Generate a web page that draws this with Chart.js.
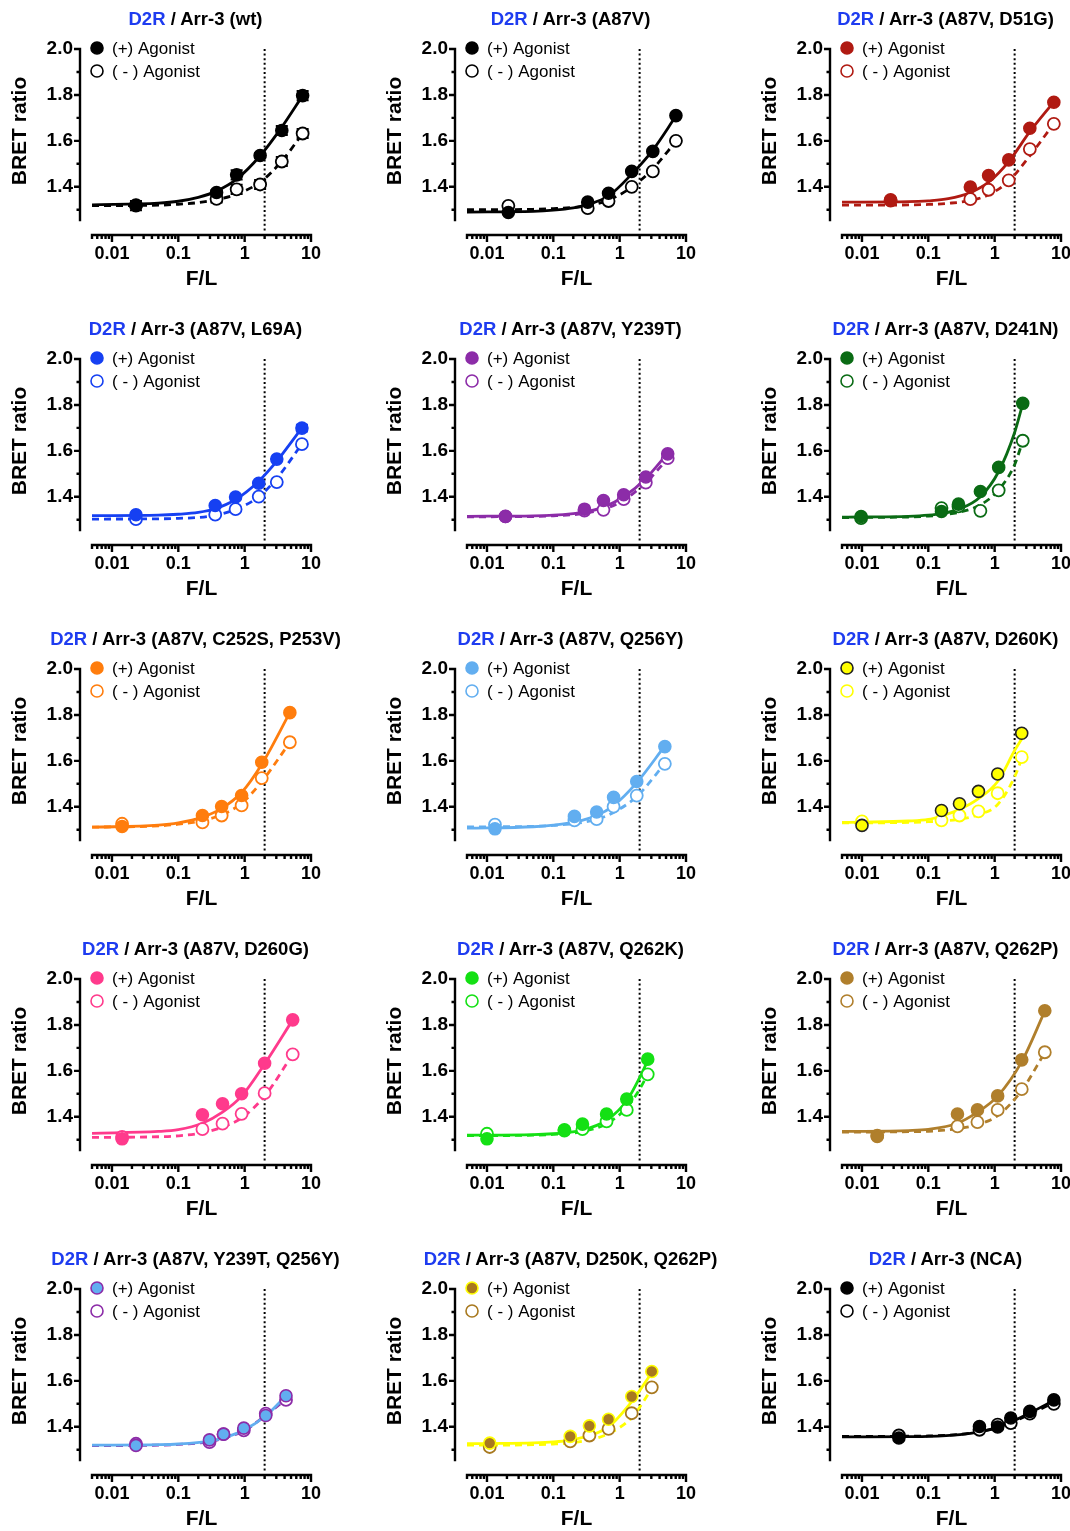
<!DOCTYPE html>
<html>
<head>
<meta charset="utf-8">
<script src="https://cdn.jsdelivr.net/npm/chart.js@4/dist/chart.umd.min.js"></script>
<style>
  html, body { margin: 0; padding: 0; background: #fff; }
  #page { position: relative; width: 1070px; height: 1531px; overflow: hidden; background: #fff; }
  canvas.panel { position: absolute; }
  .ptitle { position: absolute; transform: translateX(-50%); white-space: nowrap;
            font-family: 'Liberation Sans', Arial, sans-serif; font-weight: bold; font-size: 18.5px;
            line-height: 22px; color: #000; }
  .ptitle .d2r { color: #1e3cf0; }
</style>
</head>
<body>
<div id="page"></div>
<script>
// ---------------- data ----------------
const PANEL_TITLES = ['wt', 'A87V', 'A87V, D51G', 'A87V, L69A', 'A87V, Y239T', 'A87V, D241N',
  'A87V, C252S, P253V', 'A87V, Q256Y', 'A87V, D260K', 'A87V, D260G', 'A87V, Q262K', 'A87V, Q262P',
  'A87V, Y239T, Q256Y', 'A87V, D250K, Q262P', 'NCA'];
const SERIES_LABELS = ['(+) Agonist', '( - ) Agonist'];
const X_TICKS = [0.01, 0.1, 1, 10];
const Y_TICKS = [1.4, 1.6, 1.8, 2.0];
const THRESHOLD_X = 2;           // dotted vertical reference line at F/L = 2
const THRESHOLD_Y = [1.21, 2.0];

const P1_X = [0.023, 0.377, 0.757, 1.71, 3.63, 7.48];
const P1_PLUS = [1.318, 1.375, 1.452, 1.536, 1.645, 1.797];
const P1_PLUS_ERR = [0.02, 0.01, 0.02, 0.01, 0.02, 0.02];
const P1_MINUS = [1.320, 1.347, 1.389, 1.410, 1.510, 1.632];
const P1_MINUS_ERR = [0.01, 0.015, 0.02, 0.02, 0.02, 0.02];
const P1_FIT_X = [0.005, 0.05, 0.1, 0.2, 0.377, 0.757, 1.71, 3.63, 7.48];
const P1_FIT_PLUS = [1.321, 1.329, 1.337, 1.354, 1.381, 1.433, 1.535, 1.660, 1.797];
const P1_FIT_MINUS = [1.318, 1.320, 1.324, 1.331, 1.344, 1.368, 1.420, 1.512, 1.632];

const P2_X = [0.021, 0.33, 0.68, 1.52, 3.16, 7.05];
const P2_PLUS = [1.288, 1.333, 1.372, 1.467, 1.554, 1.710];
const P2_MINUS = [1.317, 1.307, 1.338, 1.400, 1.467, 1.600];
const P2_FIT_X = [0.005, 0.05, 0.1, 0.2, 0.33, 0.68, 1.52, 3.16, 7.05];
const P2_FIT_PLUS = [1.290, 1.293, 1.298, 1.308, 1.322, 1.360, 1.455, 1.560, 1.708];
const P2_FIT_MINUS = [1.300, 1.302, 1.305, 1.310, 1.318, 1.342, 1.398, 1.478, 1.598];

const P3_X = [0.027, 0.43, 0.81, 1.63, 3.39, 7.8];
const P3_PLUS = [1.343, 1.399, 1.449, 1.517, 1.655, 1.768];
const P3_MINUS = [1.340, 1.346, 1.387, 1.428, 1.564, 1.674];
const P3_FIT_X = [0.005, 0.05, 0.1, 0.2, 0.43, 0.81, 1.63, 3.39, 7.8];
const P3_FIT_PLUS = [1.333, 1.335, 1.339, 1.348, 1.375, 1.420, 1.510, 1.640, 1.770];
const P3_FIT_MINUS = [1.320, 1.321, 1.323, 1.328, 1.340, 1.365, 1.425, 1.535, 1.675];

const P4_X = [0.023, 0.36, 0.73, 1.63, 3.05, 7.3];
const P4_PLUS = [1.322, 1.362, 1.399, 1.459, 1.564, 1.699];
const P4_PLUS_ERR = [0, 0, 0, 0, 0, 0.015];
const P4_MINUS = [1.303, 1.322, 1.346, 1.401, 1.464, 1.629];
const P4_FIT_X = [0.005, 0.05, 0.1, 0.2, 0.36, 0.73, 1.63, 3.05, 7.3];
const P4_FIT_PLUS = [1.318, 1.320, 1.324, 1.332, 1.348, 1.388, 1.468, 1.555, 1.700];
const P4_FIT_MINUS = [1.303, 1.304, 1.306, 1.310, 1.320, 1.345, 1.400, 1.480, 1.630];

const P5_X = [0.019, 0.295, 0.57, 1.15, 2.48, 5.3];
const P5_PLUS = [1.314, 1.346, 1.384, 1.409, 1.486, 1.587];
const P5_MINUS = [1.315, 1.340, 1.343, 1.390, 1.462, 1.568];
const P5_FIT_X = [0.005, 0.05, 0.1, 0.2, 0.295, 0.57, 1.15, 2.48, 5.3];
const P5_FIT_PLUS = [1.315, 1.317, 1.320, 1.327, 1.333, 1.355, 1.400, 1.480, 1.590];
const P5_FIT_MINUS = [1.313, 1.314, 1.317, 1.322, 1.328, 1.346, 1.385, 1.462, 1.566];

const P6_X = [0.0097, 0.158, 0.285, 0.61, 1.15, 2.65];
const P6_PLUS = [1.314, 1.336, 1.368, 1.423, 1.528, 1.807];
const P6_MINUS = [1.307, 1.351, 1.358, 1.339, 1.428, 1.644];
const P6_FIT_X = [0.005, 0.0097, 0.05, 0.1, 0.158, 0.285, 0.61, 1.15, 2.0, 2.65];
const P6_FIT_PLUS = [1.311, 1.312, 1.315, 1.320, 1.327, 1.345, 1.400, 1.510, 1.680, 1.805];
const P6_FIT_MINUS = [1.309, 1.310, 1.312, 1.316, 1.321, 1.332, 1.365, 1.430, 1.540, 1.643];

const P7_X = [0.0142, 0.231, 0.45, 0.90, 1.81, 4.8];
const P7_PLUS = [1.314, 1.362, 1.401, 1.449, 1.594, 1.810];
const P7_MINUS = [1.326, 1.332, 1.362, 1.406, 1.525, 1.681];
const P7_FIT_X = [0.005, 0.05, 0.1, 0.231, 0.45, 0.90, 1.81, 4.8];
const P7_FIT_PLUS = [1.311, 1.320, 1.330, 1.355, 1.393, 1.462, 1.585, 1.810];
const P7_FIT_MINUS = [1.311, 1.317, 1.324, 1.340, 1.365, 1.415, 1.510, 1.680];

const P8_X = [0.0132, 0.208, 0.45, 0.81, 1.81, 4.8];
const P8_PLUS = [1.304, 1.358, 1.377, 1.441, 1.510, 1.662];
const P8_MINUS = [1.322, 1.341, 1.346, 1.401, 1.449, 1.587];
const P8_FIT_X = [0.005, 0.05, 0.1, 0.208, 0.45, 0.81, 1.81, 4.8];
const P8_FIT_PLUS = [1.307, 1.313, 1.320, 1.333, 1.362, 1.405, 1.505, 1.665];
const P8_FIT_MINUS = [1.312, 1.315, 1.319, 1.327, 1.345, 1.375, 1.445, 1.588];

const P9_X = [0.010, 0.158, 0.295, 0.57, 1.11, 2.56];
const P9_PLUS = [1.319, 1.384, 1.413, 1.467, 1.543, 1.720];
const P9_MINUS = [1.336, 1.341, 1.362, 1.380, 1.459, 1.616];
const P9_FIT_X = [0.005, 0.01, 0.05, 0.1, 0.158, 0.295, 0.57, 1.11, 2.0, 2.56];
const P9_FIT_PLUS = [1.332, 1.333, 1.338, 1.345, 1.360, 1.388, 1.435, 1.510, 1.645, 1.695];
const P9_FIT_MINUS = [1.330, 1.330, 1.332, 1.335, 1.338, 1.346, 1.365, 1.410, 1.530, 1.610];

const P10_X = [0.0142, 0.231, 0.464, 0.90, 2.0, 5.3];
const P10_PLUS = [1.304, 1.409, 1.457, 1.500, 1.633, 1.822];
const P10_MINUS = [1.312, 1.346, 1.370, 1.413, 1.503, 1.672];
const P10_FIT_X = [0.005, 0.05, 0.1, 0.231, 0.464, 0.90, 2.0, 5.3];
const P10_FIT_PLUS = [1.328, 1.336, 1.344, 1.372, 1.420, 1.490, 1.630, 1.822];
const P10_FIT_MINUS = [1.310, 1.313, 1.317, 1.330, 1.355, 1.395, 1.490, 1.672];

const P11_X = [0.010, 0.147, 0.275, 0.635, 1.28, 2.65];
const P11_PLUS = [1.304, 1.343, 1.368, 1.412, 1.477, 1.651];
const P11_MINUS = [1.326, 1.340, 1.346, 1.380, 1.430, 1.585];
const P11_FIT_X = [0.005, 0.01, 0.05, 0.1, 0.147, 0.275, 0.635, 1.28, 2.0, 2.65];
const P11_FIT_PLUS = [1.320, 1.320, 1.322, 1.326, 1.330, 1.342, 1.385, 1.470, 1.570, 1.645];
const P11_FIT_MINUS = [1.318, 1.318, 1.320, 1.323, 1.326, 1.335, 1.370, 1.440, 1.520, 1.585];

const P12_X = [0.017, 0.275, 0.55, 1.11, 2.56, 5.7];
const P12_PLUS = [1.314, 1.412, 1.430, 1.491, 1.648, 1.862];
const P12_MINUS = [1.318, 1.358, 1.377, 1.430, 1.520, 1.681];
const P12_FIT_X = [0.005, 0.05, 0.1, 0.275, 0.55, 1.11, 2.56, 5.7];
const P12_FIT_PLUS = [1.336, 1.340, 1.345, 1.372, 1.420, 1.490, 1.640, 1.860];
const P12_FIT_MINUS = [1.333, 1.335, 1.337, 1.348, 1.366, 1.405, 1.515, 1.680];

const P13_X = [0.023, 0.295, 0.48, 0.97, 2.08, 4.2];
const P13_PLUS = [1.319, 1.343, 1.368, 1.394, 1.449, 1.535];
const P13_MINUS = [1.326, 1.333, 1.368, 1.384, 1.457, 1.517];
const P13_FIT_X = [0.005, 0.05, 0.1, 0.295, 0.48, 0.97, 2.08, 4.2];
const P13_FIT_PLUS = [1.320, 1.322, 1.325, 1.338, 1.352, 1.385, 1.448, 1.535];
const P13_FIT_MINUS = [1.318, 1.320, 1.323, 1.335, 1.350, 1.382, 1.450, 1.520];

const P14_X = [0.011, 0.18, 0.35, 0.68, 1.52, 3.05];
const P14_PLUS = [1.329, 1.358, 1.404, 1.433, 1.532, 1.641];
const P14_MINUS = [1.312, 1.336, 1.362, 1.391, 1.459, 1.572];
const P14_FIT_X = [0.005, 0.011, 0.05, 0.1, 0.18, 0.35, 0.68, 1.52, 3.05];
const P14_FIT_PLUS = [1.326, 1.327, 1.330, 1.334, 1.342, 1.362, 1.400, 1.510, 1.635];
const P14_FIT_MINUS = [1.320, 1.320, 1.322, 1.325, 1.330, 1.343, 1.370, 1.440, 1.565];

const P15_X = [0.036, 0.59, 1.11, 1.75, 3.39, 7.8];
const P15_PLUS = [1.351, 1.401, 1.399, 1.438, 1.467, 1.517];
const P15_MINUS = [1.362, 1.387, 1.409, 1.416, 1.457, 1.500];
const P15_FIT_X = [0.005, 0.05, 0.1, 0.3, 0.59, 1.11, 1.75, 3.39, 7.8];
const P15_FIT_PLUS = [1.356, 1.357, 1.358, 1.366, 1.378, 1.398, 1.420, 1.460, 1.515];
const P15_FIT_MINUS = [1.358, 1.359, 1.360, 1.367, 1.378, 1.396, 1.416, 1.455, 1.505];

// ---------------- styles (kept apart from data) ----------------
const BLACK = '#000000', RED = '#b01a12', BLUE = '#1640f2', PURPLE = '#8c2ca8', DKGREEN = '#0a6b14',
      ORANGE = '#ff7d0d', LTBLUE = '#62aef0', YELLOW = '#ffff00', PINK = '#ff3a8c', GREEN = '#14e014',
      BROWN = '#b07f2c', DKBROWN = '#a8791f';
const STYLES = [
  {plusFill: BLACK, plusBorder: BLACK, minus: BLACK, solid: BLACK, dashed: BLACK},
  {plusFill: BLACK, plusBorder: BLACK, minus: BLACK, solid: BLACK, dashed: BLACK},
  {plusFill: RED, plusBorder: RED, minus: RED, solid: RED, dashed: RED},
  {plusFill: BLUE, plusBorder: BLUE, minus: BLUE, solid: BLUE, dashed: BLUE},
  {plusFill: PURPLE, plusBorder: PURPLE, minus: PURPLE, solid: PURPLE, dashed: PURPLE},
  {plusFill: DKGREEN, plusBorder: DKGREEN, minus: DKGREEN, solid: DKGREEN, dashed: DKGREEN},
  {plusFill: ORANGE, plusBorder: ORANGE, minus: ORANGE, solid: ORANGE, dashed: ORANGE},
  {plusFill: LTBLUE, plusBorder: LTBLUE, minus: LTBLUE, solid: LTBLUE, dashed: LTBLUE},
  {plusFill: YELLOW, plusBorder: '#222222', minus: YELLOW, solid: YELLOW, dashed: YELLOW},
  {plusFill: PINK, plusBorder: PINK, minus: PINK, solid: PINK, dashed: PINK},
  {plusFill: GREEN, plusBorder: GREEN, minus: GREEN, solid: GREEN, dashed: GREEN},
  {plusFill: BROWN, plusBorder: BROWN, minus: BROWN, solid: BROWN, dashed: BROWN},
  {plusFill: LTBLUE, plusBorder: PURPLE, minus: PURPLE, solid: LTBLUE, dashed: PURPLE},
  {plusFill: DKBROWN, plusBorder: YELLOW, minus: DKBROWN, solid: YELLOW, dashed: YELLOW},
  {plusFill: BLACK, plusBorder: BLACK, minus: BLACK, solid: BLACK, dashed: BLACK}
];

const PANELS = [
  {x: P1_X, plus: P1_PLUS, minus: P1_MINUS, plusErr: P1_PLUS_ERR, minusErr: P1_MINUS_ERR, fx: P1_FIT_X, fp: P1_FIT_PLUS, fm: P1_FIT_MINUS},
  {x: P2_X, plus: P2_PLUS, minus: P2_MINUS, fx: P2_FIT_X, fp: P2_FIT_PLUS, fm: P2_FIT_MINUS},
  {x: P3_X, plus: P3_PLUS, minus: P3_MINUS, fx: P3_FIT_X, fp: P3_FIT_PLUS, fm: P3_FIT_MINUS},
  {x: P4_X, plus: P4_PLUS, minus: P4_MINUS, plusErr: P4_PLUS_ERR, fx: P4_FIT_X, fp: P4_FIT_PLUS, fm: P4_FIT_MINUS},
  {x: P5_X, plus: P5_PLUS, minus: P5_MINUS, fx: P5_FIT_X, fp: P5_FIT_PLUS, fm: P5_FIT_MINUS},
  {x: P6_X, plus: P6_PLUS, minus: P6_MINUS, fx: P6_FIT_X, fp: P6_FIT_PLUS, fm: P6_FIT_MINUS},
  {x: P7_X, plus: P7_PLUS, minus: P7_MINUS, fx: P7_FIT_X, fp: P7_FIT_PLUS, fm: P7_FIT_MINUS},
  {x: P8_X, plus: P8_PLUS, minus: P8_MINUS, fx: P8_FIT_X, fp: P8_FIT_PLUS, fm: P8_FIT_MINUS},
  {x: P9_X, plus: P9_PLUS, minus: P9_MINUS, fx: P9_FIT_X, fp: P9_FIT_PLUS, fm: P9_FIT_MINUS},
  {x: P10_X, plus: P10_PLUS, minus: P10_MINUS, fx: P10_FIT_X, fp: P10_FIT_PLUS, fm: P10_FIT_MINUS},
  {x: P11_X, plus: P11_PLUS, minus: P11_MINUS, fx: P11_FIT_X, fp: P11_FIT_PLUS, fm: P11_FIT_MINUS},
  {x: P12_X, plus: P12_PLUS, minus: P12_MINUS, fx: P12_FIT_X, fp: P12_FIT_PLUS, fm: P12_FIT_MINUS},
  {x: P13_X, plus: P13_PLUS, minus: P13_MINUS, fx: P13_FIT_X, fp: P13_FIT_PLUS, fm: P13_FIT_MINUS},
  {x: P14_X, plus: P14_PLUS, minus: P14_MINUS, fx: P14_FIT_X, fp: P14_FIT_PLUS, fm: P14_FIT_MINUS},
  {x: P15_X, plus: P15_PLUS, minus: P15_MINUS, fx: P15_FIT_X, fp: P15_FIT_PLUS, fm: P15_FIT_MINUS}
];

// ---------------- layout constants ----------------
const FONT = "'Liberation Sans', Arial, Helvetica, sans-serif";
const COL_X = [0, 375, 750];
const ROW_H = 310;
const CW = 330, CH = 310;
Chart.defaults.font.family = FONT;

const toPts = (xs, ys) => xs.map((v, i) => ({x: v, y: ys[i]}));

// plugin: GraphPad-style offset axes, minor ticks, error bars, legend, y title
const prismPlugin = {
  id: 'prismPlugin',
  beforeDatasetsDraw(chart) {
    const {ctx, scales: {x, y}} = chart;
    chart.data.datasets.forEach(ds => {
      if (!ds.errorBars) return;
      ctx.save();
      ctx.strokeStyle = ds.pointBorderColor;
      ctx.lineWidth = 2;
      ds.data.forEach((p, i) => {
        const e = ds.errorBars[i];
        if (!e) return;
        const px = x.getPixelForValue(p.x);
        const y1 = y.getPixelForValue(p.y - e), y2 = y.getPixelForValue(p.y + e);
        ctx.beginPath();
        ctx.moveTo(px, y1); ctx.lineTo(px, y2);
        ctx.moveTo(px - 6, y1); ctx.lineTo(px + 6, y1);
        ctx.moveTo(px - 6, y2); ctx.lineTo(px + 6, y2);
        ctx.stroke();
      });
      ctx.restore();
    });
  },
  afterDraw(chart) {
    const {ctx, chartArea: ca, scales: {x, y}} = chart;
    ctx.save();
    ctx.strokeStyle = '#000';
    ctx.lineWidth = 2.4;
    ctx.lineCap = 'butt';
    // y axis (offset to the left of the plot area)
    const ax = ca.left - 12;
    const yTop = y.getPixelForValue(2.0), yBot = y.getPixelForValue(1.25);
    ctx.beginPath();
    ctx.moveTo(ax, yTop - 1.2); ctx.lineTo(ax, yBot);
    for (let k = 13; k <= 20; k++) {
      const v = k / 10;
      const py = y.getPixelForValue(v);
      const major = (k % 2 === 0);
      ctx.moveTo(ax + 1.2, py); ctx.lineTo(ax - (major ? 6 : 3.5), py);
    }
    ctx.stroke();
    // x axis along the bottom, with log minor ticks
    const by = ca.bottom;
    ctx.beginPath();
    ctx.moveTo(x.getPixelForValue(0.005) - 1.2, by); ctx.lineTo(x.getPixelForValue(10) + 1.2, by);
    for (let e = -3; e <= 1; e++) {
      for (let m = 1; m <= 9; m++) {
        const v = m * Math.pow(10, e);
        if (v < 0.0049 || v > 10.001) continue;
        const px = x.getPixelForValue(v);
        ctx.moveTo(px, by - 1.2); ctx.lineTo(px, by + (m === 1 ? 7 : 4));
      }
    }
    ctx.stroke();
    // y title
    ctx.fillStyle = '#000';
    ctx.font = 'bold 21px ' + FONT;
    ctx.textAlign = 'center';
    ctx.textBaseline = 'middle';
    ctx.translate(20, 131);
    ctx.rotate(-Math.PI / 2);
    ctx.fillText('BRET ratio', 0, 0);
    ctx.restore();
    // legend
    ctx.save();
    const items = [0, 1];
    items.forEach((di, j) => {
      const ds = chart.data.datasets[di];
      const cy = ca.top - 1 + j * 23;
      const cx = ca.left + 5;
      ctx.beginPath();
      ctx.arc(cx, cy, 6, 0, Math.PI * 2);
      ctx.fillStyle = ds.pointBackgroundColor;
      ctx.fill();
      ctx.lineWidth = 1.6;
      ctx.strokeStyle = ds.pointBorderColor;
      ctx.stroke();
      ctx.fillStyle = '#000';
      ctx.font = '17px ' + FONT;
      ctx.textAlign = 'left';
      ctx.textBaseline = 'middle';
      ctx.fillText(ds.label, ca.left + 20, cy + 1);
    });
    ctx.restore();
  }
};

const page = document.getElementById('page');
PANELS.forEach((p, idx) => {
  const r = Math.floor(idx / 3), c = idx % 3;
  const st = STYLES[idx];
  const cv = document.createElement('canvas');
  cv.className = 'panel';
  cv.width = CW; cv.height = CH;
  cv.style.left = COL_X[c] + 'px';
  cv.style.top = (r * ROW_H) + 'px';
  cv.style.width = CW + 'px'; cv.style.height = CH + 'px';
  page.appendChild(cv);

  const t = document.createElement('div');
  t.className = 'ptitle';
  t.style.left = (COL_X[c] + 195.5) + 'px';
  t.style.top = (r * ROW_H + 8) + 'px';
  t.innerHTML = '<span class="d2r">D2R</span> / Arr-3 (' + PANEL_TITLES[idx] + ')';
  page.appendChild(t);

  new Chart(cv, {
    type: 'scatter',
    data: {
      datasets: [
        {
          label: SERIES_LABELS[0], data: toPts(p.x, p.plus), showLine: false,
          pointRadius: 6, pointHoverRadius: 6, pointBorderWidth: 1.6,
          pointBackgroundColor: st.plusFill, pointBorderColor: st.plusBorder,
          backgroundColor: st.plusFill, borderColor: st.plusBorder,
          errorBars: p.plusErr || null, order: 0
        },
        {
          label: SERIES_LABELS[1], data: toPts(p.x, p.minus), showLine: false,
          pointRadius: 6, pointHoverRadius: 6, pointBorderWidth: 1.8,
          pointBackgroundColor: '#ffffff', pointBorderColor: st.minus,
          backgroundColor: '#ffffff', borderColor: st.minus,
          errorBars: p.minusErr || null, order: 1
        },
        {
          label: 'fit (+)', type: 'line', data: toPts(p.fx, p.fp),
          borderColor: st.solid, borderWidth: 2.8, pointRadius: 0, fill: false,
          cubicInterpolationMode: 'monotone', order: 2
        },
        {
          label: 'fit (-)', type: 'line', data: toPts(p.fx, p.fm),
          borderColor: st.dashed, borderWidth: 2.8, borderDash: [7, 5], pointRadius: 0, fill: false,
          cubicInterpolationMode: 'monotone', order: 3
        },
        {
          label: 'F/L = 2', type: 'line',
          data: [{x: THRESHOLD_X, y: THRESHOLD_Y[0]}, {x: THRESHOLD_X, y: THRESHOLD_Y[1]}],
          borderColor: '#000', borderWidth: 2, borderDash: [2, 2.6], pointRadius: 0, fill: false, order: 4
        }
      ]
    },
    options: {
      responsive: false, animation: false, devicePixelRatio: 1,
      events: [],
      layout: {padding: {left: 0, right: 19, top: 49, bottom: 15}},
      plugins: {legend: {display: false}, tooltip: {enabled: false}, title: {display: false}},
      scales: {
        x: {
          type: 'logarithmic', min: 0.005, max: 10,
          afterBuildTicks: s => { s.ticks = X_TICKS.map(v => ({value: v})); },
          afterFit: s => { s.height = 60; },
          grid: {display: false, drawTicks: false}, border: {display: false},
          ticks: {padding: 8, color: '#000', autoSkip: false, maxRotation: 0,
                  font: {size: 18, weight: 'bold', family: FONT},
                  callback: v => String(v)},
          title: {display: true, text: 'F/L', color: '#000',
                  font: {size: 21, weight: 'bold', family: FONT}, padding: {top: 0, bottom: 3}}
        },
        y: {
          type: 'linear', min: 1.19, max: 2.0,
          afterBuildTicks: s => { s.ticks = Y_TICKS.map(v => ({value: v})); },
          afterFit: s => { s.width = 92; },
          grid: {display: false, drawTicks: false}, border: {display: false},
          ticks: {padding: 19, color: '#000', font: {size: 19, weight: 'bold', family: FONT},
                  callback: v => Number(v).toFixed(1)}
        }
      }
    },
    plugins: [prismPlugin]
  });
});
</script>
</body>
</html>
